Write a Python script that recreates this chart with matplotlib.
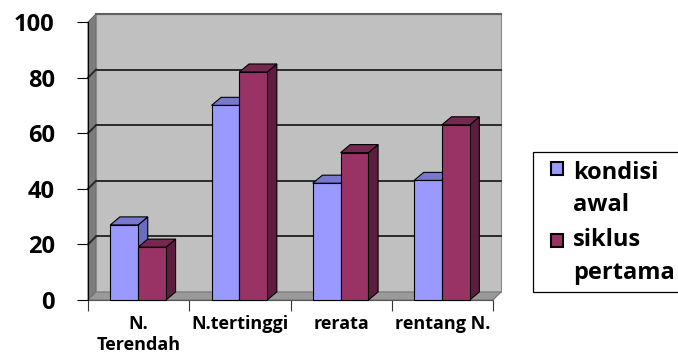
import matplotlib
matplotlib.use("Agg")
import matplotlib.pyplot as plt
from matplotlib.patches import Polygon, Rectangle

categories = ["N.\nTerendah", "N.tertinggi", "rerata", "rentang N."]
kondisi_awal = [27, 70, 42, 43]
siklus_pertama = [19, 82, 53, 63]
series_names = [["kondisi", "awal"], ["siklus", "pertama"]]
yticks = [0, 20, 40, 60, 80, 100]

W, H = 678, 362
plt.rcParams['font.family'] = ['Open Sans', 'DejaVu Sans']
plt.rcParams['font.weight'] = 'bold'

fig = plt.figure(figsize=(W / 100, H / 100), dpi=100)
# front plane of the plot: x 88..493 px, y 300 (0) .. 22 (100)
ax = fig.add_axes([88 / W, (H - 300) / H, (493 - 88) / W, (300 - 22) / H])
ax.set_xlim(0, len(categories))
ax.set_ylim(0, 100)
ax.patch.set_visible(False)

n = len(categories)
dx, dy = 0.08, 2.9        # wall depth
bdx, bdy = 0.095, 2.9     # bar depth

# walls
ax.add_patch(Polygon([(0, 0), (0, 100), (dx, 100 + dy), (dx, dy)], closed=True,
                     facecolor='#7c7c7c', edgecolor='#6a6a6a', lw=0.8, clip_on=False, zorder=1))
ax.add_patch(Polygon([(dx, dy), (n + dx, dy), (n + dx, 100 + dy), (dx, 100 + dy)], closed=True,
                     facecolor='#c0c0c0', edgecolor='#8a8a8a', lw=0.8, clip_on=False, zorder=1))
ax.plot([dx, n + dx], [100 + dy, 100 + dy], color='#606060', lw=1.5, clip_on=False, zorder=2)
ax.add_patch(Polygon([(0, 0), (n, 0), (n + dx, dy), (dx, dy)], closed=True,
                     facecolor='#9a9a9a', edgecolor='#777777', lw=0.8, clip_on=False, zorder=1))

# gridlines on back and side wall
for v in yticks[1:-1]:
    ax.plot([dx, n + dx], [v + dy, v + dy], color='#2a2a2a', lw=1.4, clip_on=False, zorder=2)
    ax.plot([0, dx], [v, v + dy], color='#2a2a2a', lw=1.4, clip_on=False, zorder=2)


def bar3d(x0, w, v, front, side, top):
    ax.add_patch(Polygon([(x0 + w, 0), (x0 + w + bdx, bdy), (x0 + w + bdx, v + bdy), (x0 + w, v)],
                         closed=True, facecolor=side, edgecolor='black', lw=0.8, clip_on=False, zorder=3))
    ax.add_patch(Polygon([(x0, v), (x0 + w, v), (x0 + w + bdx, v + bdy), (x0 + bdx, v + bdy)],
                         closed=True, facecolor=top, edgecolor='black', lw=0.8, clip_on=False, zorder=3))
    ax.add_patch(Rectangle((x0, 0), w, v, facecolor=front, edgecolor='black', lw=0.8,
                           clip_on=False, zorder=4))


bw = 0.275
for i in range(n):
    bar3d(i + 0.22, bw, kondisi_awal[i], '#9999ff', '#6b6bc0', '#7878cc')
    bar3d(i + 0.495, bw, siklus_pertama[i], '#993366', '#5e1d3e', '#772850')

# axes / ticks
for s in ['top', 'right']:
    ax.spines[s].set_visible(False)
ax.spines['left'].set_color('black')
ax.spines['left'].set_linewidth(0.8)
ax.spines['bottom'].set_color('#555555')
ax.spines['bottom'].set_linewidth(0.8)
ax.spines['left'].set_zorder(5)

ax.set_yticks(yticks)
ax.set_yticklabels([str(t) for t in yticks], fontsize=17, fontweight='bold')
ax.tick_params(axis='y', direction='out', length=8, width=0.8, pad=16)

ax.set_xticks(range(n + 1))
ax.set_xticklabels([])
ax.set_xticks([i + 0.5 for i in range(n)], minor=True)
ax.set_xticklabels(categories, minor=True, fontsize=13, fontweight='bold',
                   linespacing=1.22)
ax.tick_params(axis='x', which='major', direction='out', length=8, width=0.8, color='#333333')
ax.tick_params(axis='x', which='minor', length=0, pad=11)


# legend drawn in figure pixels
def fx(x):
    return x / W


def fy(y):
    return 1 - y / H


fig.add_artist(Rectangle((fx(533), fy(292)), fx(700) - fx(533), fy(152) - fy(292),
                         transform=fig.transFigure, facecolor='white', edgecolor='black',
                         lw=0.9, clip_on=False))
leg_colors = ['#9999ff', '#993366']
sq_top = [162, 234]
baselines = [[179, 211], [246, 279]]
for c, lines, t, bl in zip(leg_colors, series_names, sq_top, baselines):
    fig.add_artist(Rectangle((fx(551), fy(t + 13)), fx(563) - fx(551), fy(t) - fy(t + 13),
                             transform=fig.transFigure, facecolor=c, edgecolor='black',
                             lw=1.5))
    for line, b in zip(lines, bl):
        fig.text(fx(573), fy(b), line, fontsize=17, fontweight='bold', va='baseline', ha='left')

fig.savefig("out.png", dpi=100)
